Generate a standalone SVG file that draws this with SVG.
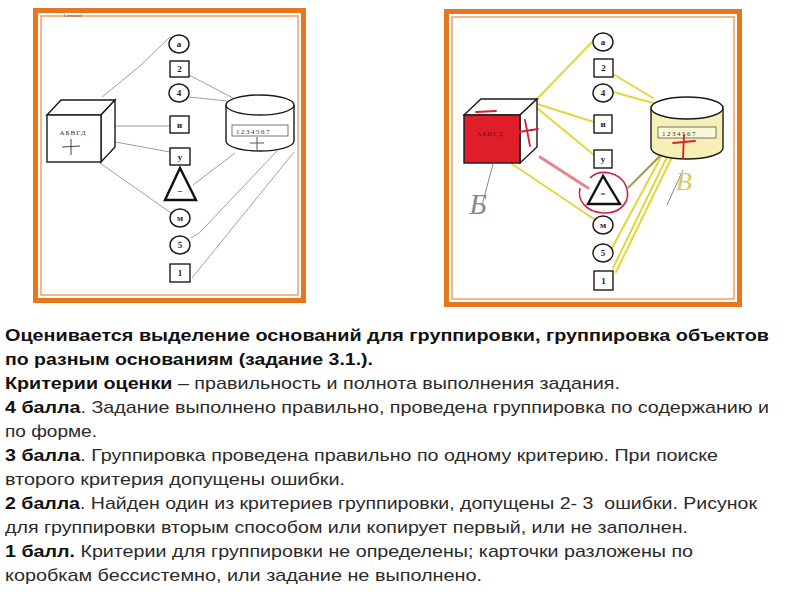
<svg xmlns="http://www.w3.org/2000/svg" width="800" height="600" viewBox="0 0 800 600">
<style>
.frame{fill:none;stroke:#e8761e;stroke-width:5}
.frame2{fill:none;stroke:#efa25c;stroke-width:1.5}
.sh{fill:#fff;stroke:#1a1a1a;stroke-width:1.4}
.lbl{font-family:"Liberation Serif",serif;font-weight:bold;font-size:9px;fill:#222;text-anchor:middle}
.gl{stroke:#a0a0a0;stroke-width:1;fill:none}
.yl{stroke:#e4d63a;stroke-width:2;fill:none;stroke-linecap:round}
.red{stroke:#d8202a;stroke-width:1.8;fill:none;stroke-linecap:round}
.t{font-family:"Liberation Sans",Arial,sans-serif;font-size:17px;fill:#2a2a2a}
.b{font-weight:bold;fill:#111}
</style>
<rect width="800" height="600" fill="#fff"/>
<!-- Left panel -->
<g id="left-panel">
<rect class="frame" x="35.5" y="10.5" width="268" height="290"/>
<rect class="frame2" x="41" y="16" width="257" height="279"/>
<text x="63" y="17" font-family="Liberation Serif,serif" font-size="5" fill="#444">1 способ</text>
</g>
<g id="left-connectors">
<polyline class="gl" points="102,97 140,66 170,37"/>
<line class="gl" x1="189" y1="75" x2="233" y2="98"/>
<line class="gl" x1="189" y1="97" x2="227" y2="101"/>
<line class="gl" x1="110" y1="126" x2="170" y2="126"/>
<line class="gl" x1="110" y1="141" x2="170" y2="152"/>
<line class="gl" x1="100" y1="163" x2="171" y2="213"/>
<line class="gl" x1="193" y1="185" x2="235" y2="153"/>
<path class="gl" d="M191,238 Q201,233 206,226 L277,151"/>
<line class="gl" x1="192" y1="278" x2="294" y2="152"/>
</g>
<g id="left-cube">
<polygon class="sh" points="47,115 61,100 115,100 101,115"/>
<polygon class="sh" points="101,115 115,100 115,147 101,162"/>
<rect class="sh" x="47" y="115" width="54" height="47"/>
<text x="73" y="135" font-family="Liberation Serif,serif" font-size="7" fill="#333" text-anchor="middle" letter-spacing="1">АБВГД</text>
<path d="M62,147 L80,146 M71,139 L71,155" stroke="#444" stroke-width="1" fill="none"/>
</g>
<g id="left-cylinder">
<path class="sh" d="M226,105 L226,141 A34,10 0 0 0 294,141 L294,105"/>
<ellipse class="sh" cx="260" cy="105" rx="34" ry="10"/>
<rect x="232" y="125" width="56" height="11" fill="#fff" stroke="#555" stroke-width="0.8"/>
<text x="236" y="133.5" font-family="Liberation Serif,serif" font-size="7" fill="#333" letter-spacing="1.5">1234567</text>
<path d="M250,143 L264,143 M257,137 L257,150" stroke="#555" stroke-width="1" fill="none"/>
</g>
<g id="left-a"><ellipse class="sh" cx="179" cy="44" rx="10" ry="9"/><text class="lbl" x="179" y="47">а</text></g>
<g id="left-2"><rect class="sh" x="170" y="61" width="19" height="16"/><text class="lbl" x="179.5" y="72">2</text></g>
<g id="left-4"><ellipse class="sh" cx="179" cy="93" rx="10" ry="9"/><text class="lbl" x="179" y="96">4</text></g>
<g id="left-i"><rect class="sh" x="170" y="116" width="19" height="17"/><text class="lbl" x="179.5" y="127.5">и</text></g>
<g id="left-u"><rect class="sh" x="170" y="148" width="20" height="17"/><text class="lbl" x="180" y="159.5">у</text></g>
<g id="left-tri"><polygon points="180,168 165,200 196,200" fill="#fff" stroke="#111" stroke-width="2.4"/><text class="lbl" x="180" y="193">–</text></g>
<g id="left-m"><ellipse class="sh" cx="180" cy="218" rx="10" ry="9"/><text class="lbl" x="180" y="221">м</text></g>
<g id="left-5"><ellipse class="sh" cx="180" cy="245" rx="10" ry="9"/><text class="lbl" x="180" y="248">5</text></g>
<g id="left-1"><rect class="sh" x="170" y="264" width="20" height="18"/><text class="lbl" x="180" y="276">1</text></g>

<!-- Right panel -->
<g id="right-panel">
<rect class="frame" x="446.5" y="11.5" width="293" height="293"/>
<rect class="frame2" x="452" y="17" width="282" height="282"/>
</g>
<g id="right-connectors">
<line class="yl" x1="537" y1="99" x2="594" y2="40"/>
<line class="yl" x1="537" y1="104" x2="594" y2="122"/>
<line class="yl" x1="537" y1="108" x2="594" y2="155"/>
<line class="yl" x1="512" y1="164" x2="594" y2="219"/>
<line class="yl" x1="613" y1="74" x2="653" y2="98"/>
<line class="yl" x1="613" y1="92" x2="653" y2="103"/>
<line x1="628" y1="188" x2="660" y2="156" stroke="#9a9a58" stroke-width="2"/>
<line class="yl" x1="612" y1="248" x2="662" y2="155"/>
<line class="yl" x1="613" y1="268" x2="667" y2="157"/>
<line class="yl" x1="616" y1="272" x2="672" y2="157"/>
<line x1="540" y1="157" x2="588" y2="188" stroke="#e8848a" stroke-width="3" stroke-linecap="round"/>
</g>
<g id="right-cube">
<polygon class="sh" points="464,115 481,99 537,99 520,115"/>
<polygon class="sh" points="520,115 537,99 537,147 520,163"/>
<rect x="464" y="115" width="56" height="48" fill="#e01e2a" stroke="#1a1a1a" stroke-width="1.4"/>
<text x="490" y="136" font-family="Liberation Serif,serif" font-size="7" fill="#7a1010" text-anchor="middle" letter-spacing="1">АБВГД</text>
<path class="red" d="M519,132 L538,129 M525,120 L530,146 M476,112 L496,111"/>
<line x1="493" y1="164" x2="482" y2="205" stroke="#888" stroke-width="1"/>
<text x="478" y="214" font-family="Liberation Serif,serif" font-style="italic" font-size="30" fill="#8a8a8a" text-anchor="middle">Б</text>
</g>
<g id="right-cylinder">
<path d="M651,108 L651,148 A36,11 0 0 0 723,148 L723,108" fill="#f6f0b6" stroke="#1a1a1a" stroke-width="1.4"/>
<ellipse class="sh" cx="687" cy="108" rx="36" ry="11"/>
<rect x="658" y="127" width="58" height="11" fill="#fbf8d8" stroke="#555" stroke-width="0.8"/>
<text x="662" y="135.5" font-family="Liberation Serif,serif" font-size="7" fill="#333" letter-spacing="1.5">1234567</text>
<path class="red" d="M673,143 L695,141 M684,135 L683,158"/>
<line x1="683" y1="170" x2="667" y2="205" stroke="#888" stroke-width="1"/>
<text x="684" y="190" font-family="Liberation Serif,serif" font-style="italic" font-size="26" fill="#d8c85a" text-anchor="middle">В</text>
</g>
<g id="right-a"><ellipse class="sh" cx="603" cy="42" rx="10" ry="9"/><text class="lbl" x="603" y="45">а</text></g>
<g id="right-2"><rect class="sh" x="594" y="59" width="19" height="18"/><text class="lbl" x="603.5" y="71">2</text></g>
<g id="right-4"><ellipse class="sh" cx="603" cy="93" rx="10" ry="9"/><text class="lbl" x="603" y="96">4</text></g>
<g id="right-i"><rect class="sh" x="594" y="115" width="18" height="18"/><text class="lbl" x="603" y="127">и</text></g>
<g id="right-u"><rect class="sh" x="594" y="150" width="18" height="18"/><text class="lbl" x="603" y="162">у</text></g>
<g id="right-tri"><polygon points="603,176 588,204 620,204" fill="#fff" stroke="#111" stroke-width="2.4"/><text class="lbl" x="603" y="197">=</text>
<path d="M590,178 C600,168 620,172 626,186 C632,202 620,214 603,213 C586,212 577,200 580,188" fill="none" stroke="#d42048" stroke-width="1.6"/></g>
<g id="right-m"><ellipse class="sh" cx="603" cy="225" rx="10" ry="9"/><text class="lbl" x="603" y="228">м</text></g>
<g id="right-5"><ellipse class="sh" cx="603" cy="253" rx="10" ry="9"/><text class="lbl" x="603" y="256">5</text></g>
<g id="right-1"><rect class="sh" x="594" y="271" width="19" height="19"/><text class="lbl" x="603.5" y="283.5">1</text></g>

<!-- Text -->
<g id="caption">
<text class="t b" x="5" y="340.5" textLength="764" lengthAdjust="spacingAndGlyphs">Оценивается выделение оснований для группировки, группировка объектов</text>
<text class="t b" x="5" y="364.5" textLength="368" lengthAdjust="spacingAndGlyphs">по разным основаниям (задание 3.1.).</text>
<text class="t" x="5" y="388.5" textLength="615" lengthAdjust="spacingAndGlyphs"><tspan class="b">Критерии оценки</tspan> – правильность и полнота выполнения задания.</text>
<text class="t" x="5" y="412.5" textLength="764" lengthAdjust="spacingAndGlyphs"><tspan class="b">4 балла</tspan>. Задание выполнено правильно, проведена группировка по содержанию и</text>
<text class="t" x="5" y="436.5" textLength="92" lengthAdjust="spacingAndGlyphs">по форме.</text>
<text class="t" x="5" y="460.5" textLength="713" lengthAdjust="spacingAndGlyphs"><tspan class="b">3 балла</tspan>. Группировка проведена правильно по одному критерию. При поиске</text>
<text class="t" x="5" y="484.5" textLength="340" lengthAdjust="spacingAndGlyphs">второго критерия допущены ошибки.</text>
<text class="t" x="5" y="508.5" textLength="752" lengthAdjust="spacingAndGlyphs" xml:space="preserve"><tspan class="b">2 балла</tspan>. Найден один из критериев группировки, допущены 2- 3  ошибки. Рисунок</text>
<text class="t" x="5" y="532.5" textLength="683" lengthAdjust="spacingAndGlyphs">для группировки вторым способом или копирует первый, или не заполнен.</text>
<text class="t" x="5" y="556.5" textLength="688" lengthAdjust="spacingAndGlyphs"><tspan class="b">1 балл.</tspan> Критерии для группировки не определены; карточки разложены по</text>
<text class="t" x="5" y="580.5" textLength="477" lengthAdjust="spacingAndGlyphs">коробкам бессистемно, или задание не выполнено.</text>
</g>
</svg>
